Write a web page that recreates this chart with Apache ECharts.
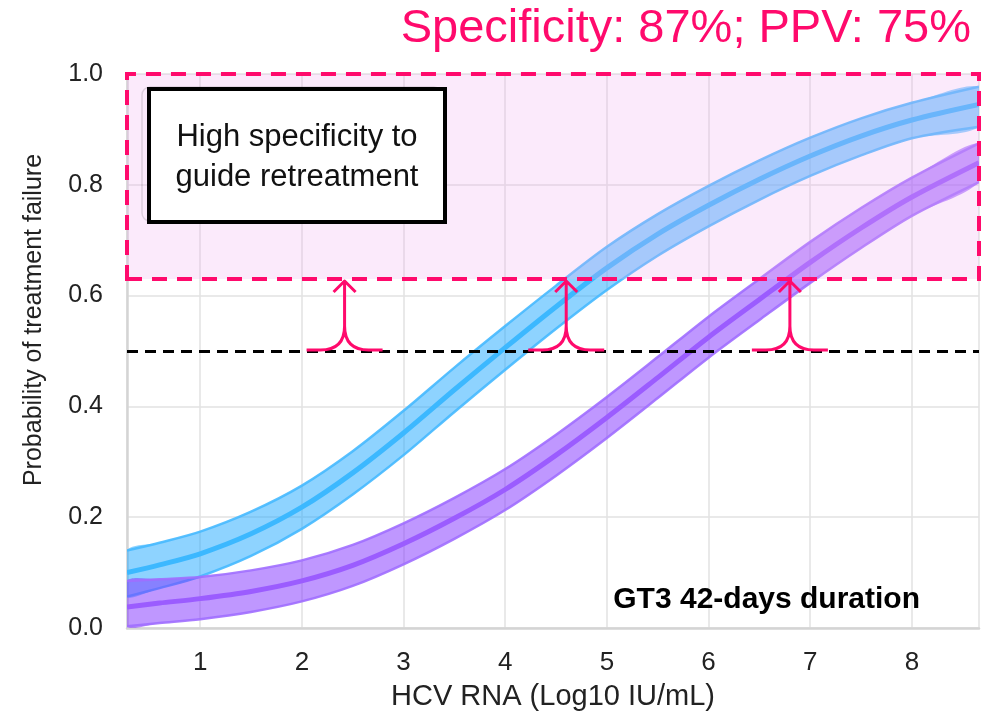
<!DOCTYPE html>
<html>
<head>
<meta charset="utf-8">
<script src="https://cdn.jsdelivr.net/npm/echarts@6/dist/echarts.min.js"></script>
<style>
html,body{margin:0;padding:0;background:#fff;}
#chart{width:982px;height:718px;}
</style>
</head>
<body>
<div id="chart"></div>
<script>
// ---- data ----
const xs          = [0.28, 0.6, 1, 1.5, 2, 2.5, 3, 3.5, 4, 4.5, 5, 5.5, 6, 6.5, 7, 7.5, 8, 8.66];
const blueMid     = [0.100,0.114,0.134,0.170,0.218,0.280,0.352,0.430,0.506,0.580,0.650,0.711,0.763,0.810,0.852,0.888,0.917,0.945];
const blueUpper   = [0.140,0.154,0.174,0.210,0.257,0.319,0.392,0.470,0.545,0.618,0.688,0.747,0.798,0.844,0.885,0.920,0.948,0.977];
const blueLower   = [0.057,0.072,0.093,0.130,0.179,0.241,0.312,0.390,0.466,0.540,0.610,0.672,0.725,0.773,0.816,0.853,0.884,0.905];
const purpleMid   = [0.038,0.045,0.053,0.066,0.085,0.113,0.152,0.198,0.250,0.312,0.380,0.452,0.525,0.593,0.660,0.722,0.778,0.840];
const purpleUpper = [0.085,0.088,0.092,0.104,0.122,0.150,0.189,0.235,0.287,0.349,0.417,0.489,0.562,0.630,0.697,0.758,0.813,0.875];
const purpleLower = [0.003,0.009,0.016,0.029,0.048,0.076,0.115,0.161,0.213,0.275,0.343,0.415,0.488,0.556,0.623,0.686,0.744,0.805];
const xRange      = [0.28, 8.66];
const yTicks      = [0, 0.2, 0.4, 0.6, 0.8, 1.0];
const threshold   = 0.63;
const halfLine    = 0.5;
const arrowXs     = [2.42, 4.6, 6.8];
const titleText   = 'Specificity: 87%; PPV: 75%';
const boxLines    = ['High specificity to', 'guide retreatment'];
const panelLabel  = 'GT3 42-days duration';
const xName       = 'HCV RNA (Log10 IU/mL)';
const yName       = 'Probability of treatment failure';

const FONT = "'Liberation Sans', Arial, Helvetica, sans-serif";
const PINK = '#ff0a6c';

function band(name, lower, mid, upper, fill, edge, core, z){
  return {
    type:'custom', name:name, z:z, silent:true, clip:true,
    data:[0],
    renderItem:function(params, api){
      const up = xs.map((x,i)=>api.coord([x, upper[i]]));
      const lo = xs.map((x,i)=>api.coord([x, lower[i]]));
      const md = xs.map((x,i)=>api.coord([x, mid[i]]));
      const poly = up.concat(lo.slice().reverse());
      return {type:'group', children:[
        {type:'polygon', shape:{points:poly, smooth:0.3}, style:{fill:fill, stroke:null}},
        {type:'polyline', shape:{points:up, smooth:0.3}, style:{stroke:edge, lineWidth:2.5, fill:null}},
        {type:'polyline', shape:{points:lo, smooth:0.3}, style:{stroke:edge, lineWidth:2.5, fill:null}},
        {type:'polyline', shape:{points:md, smooth:0.3}, style:{stroke:core, lineWidth:5, fill:null}}
      ]};
    }
  };
}

const chart = echarts.init(document.getElementById('chart'), null, {renderer:'canvas'});

const option = {
  animation:false,
  backgroundColor:'#fff',
  textStyle:{fontFamily:FONT},
  title:{
    text:titleText, right:6, top:1,
    textStyle:{color:PINK, fontSize:47, fontWeight:'normal', fontFamily:FONT}
  },
  grid:{left:127, right:0, top:74, bottom:90, containLabel:false},
  xAxis:{
    type:'value', min:xRange[0], max:xRange[1], minInterval:1, maxInterval:1,
    name:xName, nameLocation:'middle', nameGap:54,
    nameTextStyle:{fontSize:29, color:'#222', fontFamily:FONT},
    axisLine:{show:true, onZero:false, lineStyle:{color:'#d4d4d4', width:2.5}},
    axisTick:{show:false},
    axisLabel:{fontSize:26, color:'#222', margin:22, fontFamily:FONT,
      formatter:function(v){ return Math.abs(v-Math.round(v))<1e-6 ? String(Math.round(v)) : ''; }},
    splitLine:{show:true, lineStyle:{color:'#e2e2e2', width:1.5}}
  },
  yAxis:{
    type:'value', min:yTicks[0], max:yTicks[yTicks.length-1], interval:0.2,
    name:yName, nameLocation:'middle', nameGap:80, nameRotate:90,
    nameTextStyle:{fontSize:25, color:'#222', fontFamily:FONT, padding:[0,0,0,62]},
    axisLine:{show:true, lineStyle:{color:'#d4d4d4', width:2.5}},
    axisTick:{show:false},
    axisLabel:{fontSize:25, color:'#222', margin:24, fontFamily:FONT,
      formatter:function(v){ return v.toFixed(1); }},
    splitLine:{show:true, lineStyle:{color:'#e2e2e2', width:1.5}}
  },
  series:[
    band('blue', blueLower, blueMid, blueUpper, 'rgba(30,168,255,0.5)', 'rgba(70,185,255,0.9)', '#3cb8ff', 3),
    band('purple', purpleLower, purpleMid, purpleUpper, 'rgba(128,48,255,0.5)', 'rgba(160,110,255,0.9)', '#9b5cff', 5),
    {type:'line', name:'overlay', data:[], z:10, silent:true,
     markArea:{silent:true, z:10,
       itemStyle:{color:'rgba(238,170,238,0.25)', borderColor:PINK, borderWidth:4, borderType:[15,10]},
       data:[[{xAxis:xRange[0], yAxis:threshold},{xAxis:xRange[1], yAxis:yTicks[yTicks.length-1]}]]},
     markLine:{silent:true, z:11, symbol:['none','none'], label:{show:false},
       lineStyle:{color:'#000', width:3, type:[11,7]},
       data:[{yAxis:halfLine}]}
    },
    {type:'custom', name:'arrows', z:20, silent:true,
     data:arrowXs.map(x=>[x, halfLine, threshold]),
     renderItem:function(params, api){
       const b = api.coord([api.value(0), api.value(1)]);
       const t = api.coord([api.value(0), api.value(2)]);
       const x = b[0], yb = b[1]-1, yt = t[1]+2;
       const r = 24, ext = 38;
       const d = 'M '+(x-ext)+' '+yb+' L '+(x-r)+' '+yb+' Q '+x+' '+yb+' '+x+' '+(yb-r)+
                 ' L '+x+' '+yt+
                 ' M '+x+' '+(yb-r)+' Q '+x+' '+yb+' '+(x+r)+' '+yb+' L '+(x+ext)+' '+yb+
                 ' M '+(x-11)+' '+(yt+11)+' L '+x+' '+yt+' L '+(x+11)+' '+(yt+11);
       return {type:'path', shape:{pathData:d},
               style:{stroke:PINK, lineWidth:3, fill:null, lineJoin:'round'}};
     }}
  ],
  graphic:[
    {type:'rect', z:100, shape:{x:142, y:87, width:300, height:134, r:8},
     style:{fill:null, stroke:'rgba(0,0,0,0.12)', lineWidth:1.5}},
    {type:'rect', z:101, shape:{x:149, y:89, width:296, height:133},
     style:{fill:'#fff', stroke:'#000', lineWidth:4}},
    {type:'text', z:102, x:297, y:157,
     style:{text:boxLines.join('\n'), fill:'#111', font:'31px '+FONT, align:'center', verticalAlign:'middle', lineHeight:40}},
    {type:'text', z:102, right:62, top:585,
     style:{text:panelLabel, fill:'#000', font:'bold 30px '+FONT}}
  ]
};
chart.setOption(option);
</script>
</body>
</html>
